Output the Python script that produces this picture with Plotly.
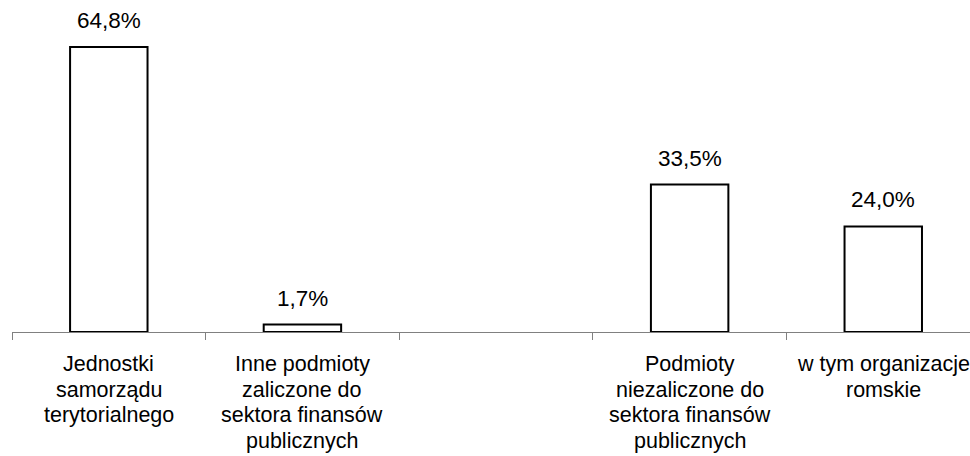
import plotly.graph_objects as go

categories = ["Jednostki<br>samorządu<br>terytorialnego",
              "Inne podmioty<br>zaliczone do<br>sektora finansów<br>publicznych",
              "",
              "Podmioty<br>niezaliczone do<br>sektora finansów<br>publicznych",
              "w tym organizacje<br>romskie"]
positions = [0, 1, 2, 3, 4]
values = [64.8, 1.7, None, 33.5, 24.0]

FONT = "Liberation Sans, Arial, sans-serif"
LABEL_SIZE = 21.5
LINE_GAP = 25.7

bx = [p for p, v in zip(positions, values) if v is not None]
by = [v for v in values if v is not None]

fig = go.Figure()
fig.add_trace(go.Bar(
    x=bx, y=by, width=0.4,
    marker=dict(color="white", line=dict(color="black", width=2)),
    hoverinfo="skip",
))

for p, v in zip(bx, by):
    fig.add_annotation(x=p, y=v, xref="x", yref="y",
                       text=f"{v:.1f}%".replace(".", ","),
                       showarrow=False, yanchor="bottom", yshift=12,
                       font=dict(family=FONT, size=22.5, color="black"))

# category labels, one annotation per line for tighter line spacing
for p, lab in zip(positions, categories):
    if not lab:
        continue
    for i, line in enumerate(lab.split("<br>")):
        fig.add_annotation(x=p, y=0, xref="x", yref="paper",
                           text=line, showarrow=False,
                           yanchor="top", yshift=-(18 + i * LINE_GAP),
                           font=dict(family=FONT, size=LABEL_SIZE, color="black"))

fig.update_layout(
    width=970, height=456,
    margin=dict(l=12, r=0, t=24, b=124),
    paper_bgcolor="white", plot_bgcolor="white",
    showlegend=False,
    font=dict(family=FONT, size=LABEL_SIZE, color="black"),
    xaxis=dict(range=[-0.5, 4.448], tickmode="array", tickvals=positions,
               ticktext=[""] * len(positions), ticks="", showgrid=False,
               zeroline=False, showline=True, linecolor="#808080", linewidth=1,
               automargin=False,
               minor=dict(ticks="outside", tick0=-0.5, dtick=1, ticklen=7,
                          tickcolor="#808080", tickwidth=1, showgrid=False)),
    yaxis=dict(range=[0, 70], visible=False, showgrid=False, zeroline=False),
)

fig.write_html("out.html", config={"displayModeBar": False},
               post_script="document.body.style.margin='0';document.body.style.overflow='hidden';")
